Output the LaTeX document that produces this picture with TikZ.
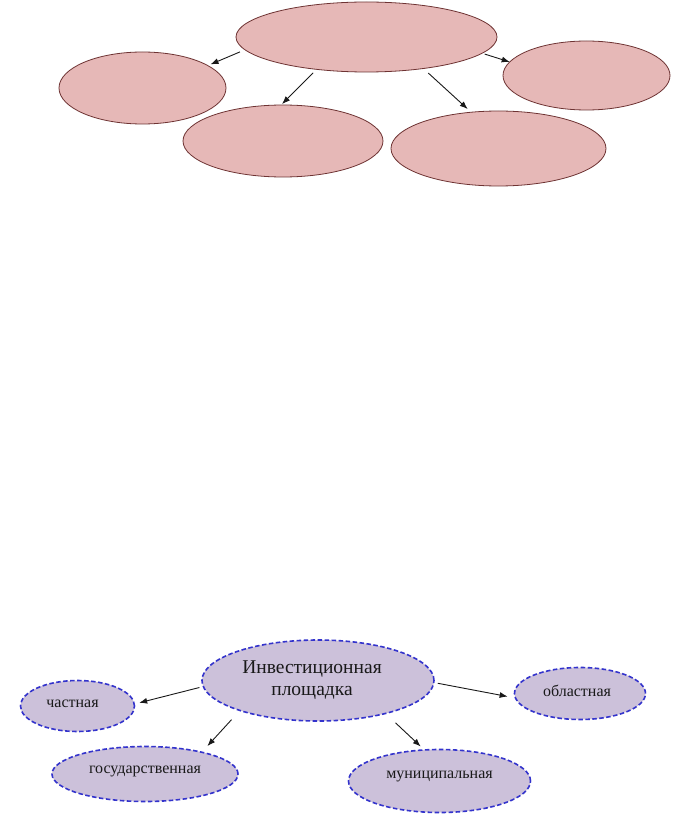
\documentclass[tikz,border=0pt]{standalone}
\usepackage{fontspec}
\setmainfont{Liberation Serif}
\usetikzlibrary{shapes.geometric,arrows.meta}
\definecolor{pinkfill}{HTML}{E6B8B7}
\definecolor{pinkline}{HTML}{6E3333}
\definecolor{lilacfill}{HTML}{CCC1DA}
\definecolor{blueline}{HTML}{3333CC}
\begin{document}
\begin{tikzpicture}[x=1pt,y=-1pt,
  pinkell/.style={ellipse,draw=pinkline,fill=pinkfill,line width=0.8pt,inner sep=0pt,outer sep=0pt},
  lilacell/.style={ellipse,draw=blueline,fill=lilacfill,line width=1.6pt,dash pattern=on 4.5pt off 2.5pt,inner sep=0pt,outer sep=0pt,font=\fontsize{16}{18}\selectfont,text=black!90},
  arr/.style={-{Latex[length=8pt,width=6pt]},line width=0.9pt,black!90}
]
\useasboundingbox[fill=white] (0,0) rectangle (674,829);
% top group (empty ellipses)
\node[pinkell,minimum width=261pt,minimum height=70pt] (T) at (366.5,37) {};
\node[pinkell,minimum width=167pt,minimum height=72pt] (L) at (142.5,88) {};
\node[pinkell,minimum width=167pt,minimum height=69pt] (R) at (586.5,75.5) {};
\node[pinkell,minimum width=200pt,minimum height=72pt] (BL) at (283,141) {};
\node[pinkell,minimum width=215pt,minimum height=75pt] (BR) at (498.5,148.5) {};
\draw[arr,shorten <=5.5pt,shorten >=3pt] (T.186.8) -- (L.19.6);
\draw[arr,shorten <=2.7pt] (T.352.8) -- (R.170);
\draw[arr,shorten <=5pt,shorten >=1.3pt] (T.213) -- (BL.93);
\draw[arr,shorten <=6.7pt,shorten >=4.7pt] (T.331.9) -- (BR.127.8);
% bottom group
\node[lilacell,minimum width=232pt,minimum height=81pt,font=\fontsize{19.5}{22}\selectfont] (C) at (318,680.5)
  {\begin{tabular}{@{}c@{}}Инвестиционная\\площадка\end{tabular}\kern12pt};
\node[lilacell,minimum width=114pt,minimum height=51pt,text height=8pt,text depth=5.4pt] (Ch) at (77.5,706) {частная\kern10pt};
\node[lilacell,minimum width=131pt,minimum height=52pt,text height=8pt,text depth=1.6pt] (O) at (580,693.5) {областная\kern6pt};
\node[lilacell,minimum width=186pt,minimum height=55pt,text height=8pt,text depth=10pt] (G) at (145,774) {государственная};
\node[lilacell,minimum width=182pt,minimum height=63pt,text height=8pt,text depth=13.4pt] (M) at (439.5,781) {муниципальная};
\draw[arr,shorten <=4pt,shorten >=5pt] (C.183.1) -- (Ch.2.7);
\draw[arr,shorten <=4pt,shorten >=8pt] (C.359.3) -- (O.184.3);
\draw[arr,shorten <=12.5pt,shorten >=8.3pt] (C.201.5) -- (G.21.5);
\draw[arr,shorten <=13.7pt,shorten >=5pt] (C.334.4) -- (M.116.9);
\end{tikzpicture}
\end{document}
